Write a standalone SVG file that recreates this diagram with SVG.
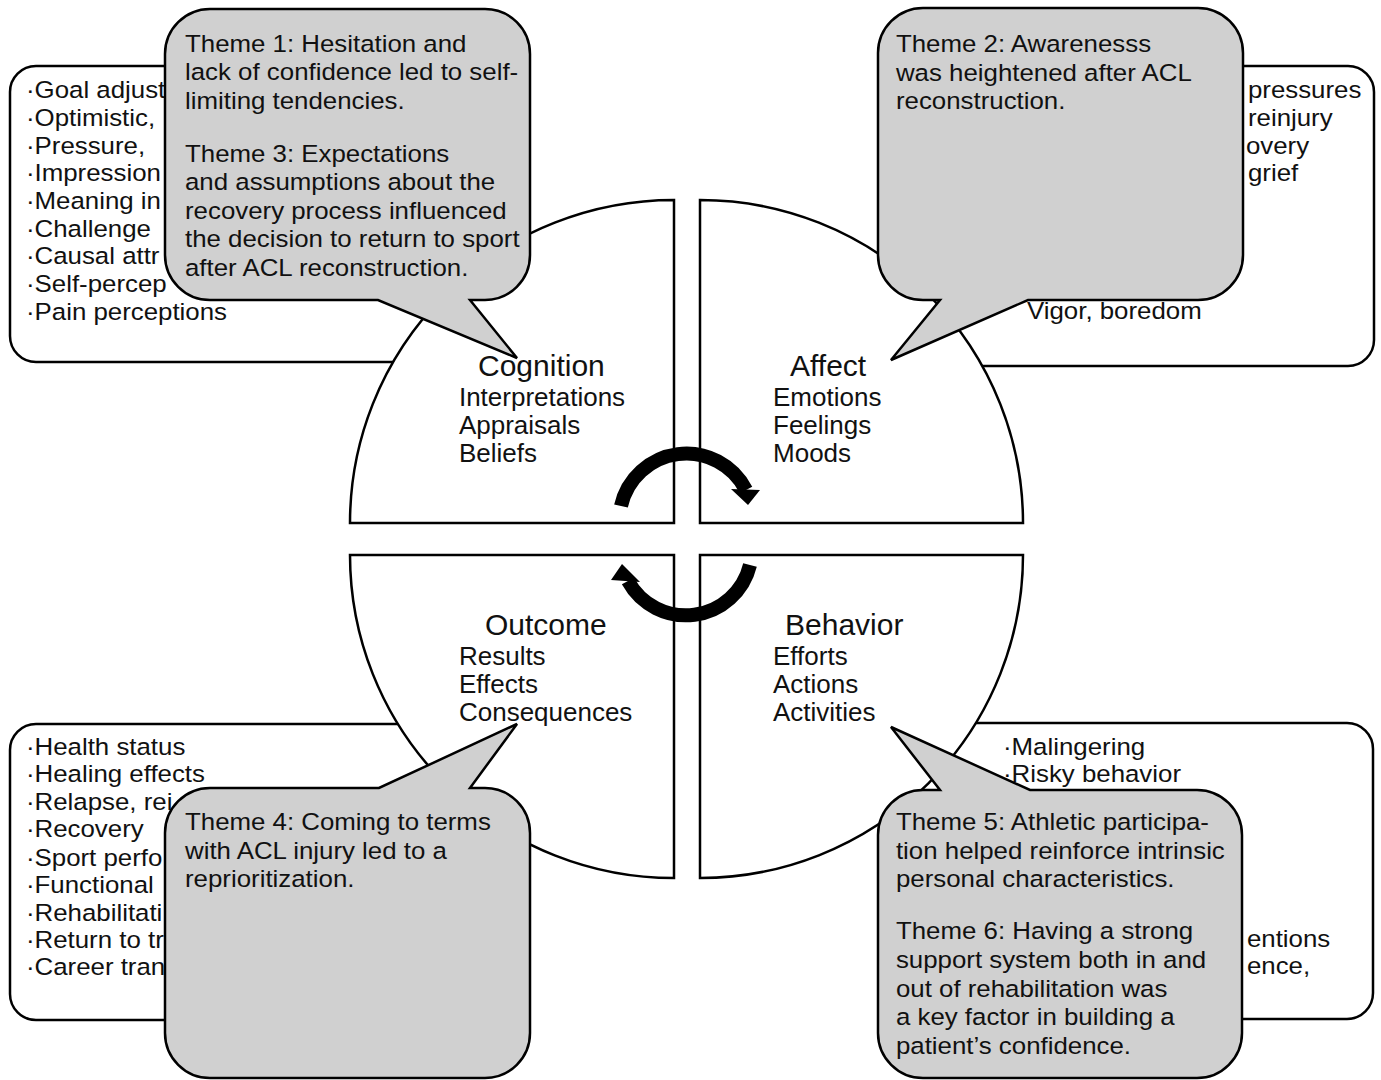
<svg xmlns="http://www.w3.org/2000/svg" width="1381" height="1080" viewBox="0 0 1381 1080">
<style>
  .box{fill:#fff;stroke:#000;stroke-width:2.5}
  .quad{fill:#fff;stroke:#000;stroke-width:2.5}
  .call{fill:#d0d0d0;stroke:#000;stroke-width:2.5;stroke-linejoin:miter}
  text{font-family:"Liberation Sans",Arial,sans-serif;fill:#111}
  .t{font-size:25px}
  .s{font-size:23.5px}
  .h{font-size:30px}
  .arc{fill:none;stroke:#000;stroke-width:14}
</style>
<rect width="1381" height="1080" fill="#fff"/>
<g id="box-cognition">
  <rect class="box" x="10" y="66" width="480" height="296" rx="26"/>
  <g transform="scale(1.1,1)">
    <text class="s" x="23.6" y="98">·Goal adjust</text>
    <text class="s" x="23.6" y="126">·Optimistic,</text>
    <text class="s" x="23.6" y="154">·Pressure,</text>
    <text class="s" x="23.6" y="181">·Impression</text>
    <text class="s" x="23.6" y="209">·Meaning in</text>
    <text class="s" x="23.6" y="237">·Challenge</text>
    <text class="s" x="23.6" y="264">·Causal attr</text>
    <text class="s" x="23.6" y="292">·Self-percep</text>
    <text class="s" x="23.6" y="320">·Pain perceptions</text>
  </g>
</g>
<g id="box-affect">
  <rect class="box" x="900" y="66" width="474" height="300" rx="26"/>
  <g transform="scale(1.1,1)">
    <text class="s" x="1134.5" y="98">pressures</text>
    <text class="s" x="1134.5" y="126">reinjury</text>
    <text class="s" x="1132.7" y="154">overy</text>
    <text class="s" x="1134.5" y="181">grief</text>
    <text class="s" x="933.6" y="319">Vigor, boredom</text>
  </g>
</g>
<g id="box-outcome">
  <rect class="box" x="10" y="724" width="480" height="296" rx="26"/>
  <g transform="scale(1.1,1)">
    <text class="s" x="23.6" y="755">·Health status</text>
    <text class="s" x="23.6" y="782">·Healing effects</text>
    <text class="s" x="23.6" y="810">·Relapse, rei</text>
    <text class="s" x="23.6" y="837">·Recovery</text>
    <text class="s" x="23.6" y="866">·Sport perfo</text>
    <text class="s" x="23.6" y="893">·Functional</text>
    <text class="s" x="23.6" y="921">·Rehabilitati</text>
    <text class="s" x="23.6" y="948">·Return to tr</text>
    <text class="s" x="23.6" y="975">·Career tran</text>
  </g>
</g>
<g id="box-behavior">
  <rect class="box" x="900" y="723" width="473" height="296" rx="26"/>
  <g transform="scale(1.1,1)">
    <text class="s" x="911.8" y="755">·Malingering</text>
    <text class="s" x="911.8" y="782">·Risky behavior</text>
    <text class="s" x="1133.6" y="947">entions</text>
    <text class="s" x="1133.6" y="974">ence,</text>
  </g>
</g>
<g id="quad-cognition">
  <path class="quad" d="M674,200 L674,523 L350,523 A324,323 0 0 1 674,200 Z"/>
  <text class="h" x="478" y="376">Cognition</text>
  <g transform="scale(1.04,1)">
    <text class="t" x="441.3" y="406">Interpretations</text>
    <text class="t" x="441.3" y="434">Appraisals</text>
    <text class="t" x="441.3" y="462">Beliefs</text>
  </g>
</g>
<g id="quad-affect">
  <path class="quad" d="M700,200 L700,523 L1023,523 A323,323 0 0 0 700,200 Z"/>
  <text class="h" x="790" y="376">Affect</text>
  <g transform="scale(1.04,1)">
    <text class="t" x="743.3" y="406">Emotions</text>
    <text class="t" x="743.3" y="434">Feelings</text>
    <text class="t" x="743.3" y="462">Moods</text>
  </g>
</g>
<g id="quad-outcome">
  <path class="quad" d="M674,878 L674,555 L350,555 A324,323 0 0 0 674,878 Z"/>
  <text class="h" x="485" y="635">Outcome</text>
  <g transform="scale(1.04,1)">
    <text class="t" x="441.3" y="665">Results</text>
    <text class="t" x="441.3" y="693">Effects</text>
    <text class="t" x="441.3" y="721">Consequences</text>
  </g>
</g>
<g id="quad-behavior">
  <path class="quad" d="M700,878 L700,555 L1023,555 A323,323 0 0 1 700,878 Z"/>
  <text class="h" x="785" y="635">Behavior</text>
  <g transform="scale(1.04,1)">
    <text class="t" x="743.3" y="665">Efforts</text>
    <text class="t" x="743.3" y="693">Actions</text>
    <text class="t" x="743.3" y="721">Activities</text>
  </g>
</g>
<g id="connectors">
  <path class="arc" d="M621,506 A67,67 0 0 1 746,490"/>
  <polygon points="731,489 760,490 748,505" fill="#000"/>
  <path class="arc" d="M750,565 A66,66 0 0 1 628,581"/>
  <polygon points="622,564 611,580 640,582" fill="#000"/>
</g>
<g id="theme-1-3">
  <path class="call" d="M210,9 H485 A45,45 0 0 1 530,54 V255 A45,45 0 0 1 485,300 H470 L517,358 L378,300 H210 A45,45 0 0 1 165,255 V54 A45,45 0 0 1 210,9 Z"/>
  <g transform="scale(1.1,1)">
    <text class="s" x="168.2" y="52">Theme 1: Hesitation and</text>
    <text class="s" x="168.2" y="80">lack of confidence led to self-</text>
    <text class="s" x="168.2" y="109">limiting tendencies.</text>
    <text class="s" x="168.2" y="162">Theme 3: Expectations</text>
    <text class="s" x="168.2" y="190">and assumptions about the</text>
    <text class="s" x="168.2" y="219">recovery process influenced</text>
    <text class="s" x="168.2" y="247">the decision to return to sport</text>
    <text class="s" x="168.2" y="276">after ACL reconstruction.</text>
  </g>
</g>
<g id="theme-2">
  <path class="call" d="M923,8 H1198 A45,45 0 0 1 1243,53 V255 A45,45 0 0 1 1198,300 H1028 L891,360 L940,300 H923 A45,45 0 0 1 878,255 V53 A45,45 0 0 1 923,8 Z"/>
  <g transform="scale(1.1,1)">
    <text class="s" x="814.5" y="52">Theme 2: Awarenesss</text>
    <text class="s" x="814.5" y="81">was heightened after ACL</text>
    <text class="s" x="814.5" y="109">reconstruction.</text>
  </g>
</g>
<g id="theme-4">
  <path class="call" d="M210,788 H379 L517,724 L470,788 H485 A45,45 0 0 1 530,833 V1033 A45,45 0 0 1 485,1078 H210 A45,45 0 0 1 165,1033 V833 A45,45 0 0 1 210,788 Z"/>
  <g transform="scale(1.1,1)">
    <text class="s" x="168.2" y="830">Theme 4: Coming to terms</text>
    <text class="s" x="168.2" y="859">with ACL injury led to a</text>
    <text class="s" x="168.2" y="887">reprioritization.</text>
  </g>
</g>
<g id="theme-5-6">
  <path class="call" d="M923,790 H940 L891,727 L1030,790 H1197 A45,45 0 0 1 1242,835 V1033 A45,45 0 0 1 1197,1078 H923 A45,45 0 0 1 878,1033 V835 A45,45 0 0 1 923,790 Z"/>
  <g transform="scale(1.1,1)">
    <text class="s" x="814.5" y="830">Theme 5: Athletic participa-</text>
    <text class="s" x="814.5" y="859">tion helped reinforce intrinsic</text>
    <text class="s" x="814.5" y="887">personal characteristics.</text>
    <text class="s" x="814.5" y="939">Theme 6: Having a strong</text>
    <text class="s" x="814.5" y="968">support system both in and</text>
    <text class="s" x="814.5" y="997">out of rehabilitation was</text>
    <text class="s" x="814.5" y="1025">a key factor in building a</text>
    <text class="s" x="814.5" y="1054">patient’s confidence.</text>
  </g>
</g>
</svg>
